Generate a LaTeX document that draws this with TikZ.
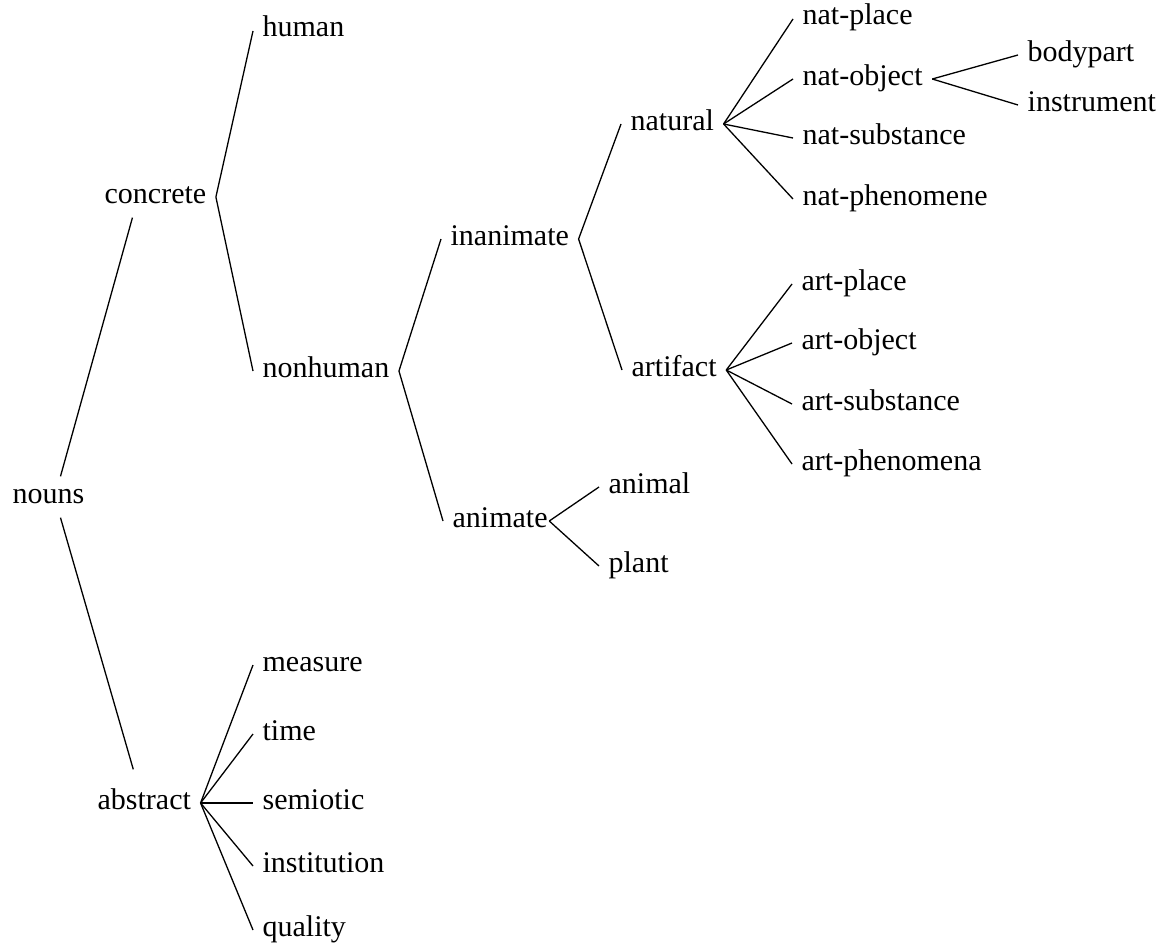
\documentclass[tikz,border=0pt]{standalone}
\usepackage{fontspec}
\setmainfont{Liberation Serif}

\begin{document}
\begin{tikzpicture}[x=1pt, y=-1pt, line width=1.3pt, word/.style = {anchor=west, inner xsep=9pt, inner ysep=6pt, text height=20pt, text depth=8pt, font=\fontsize{30pt}{36pt}\selectfont}]
        \useasboundingbox (0,0) rectangle (1158,942);
        \node[word] (nouns) at (3,497) {nouns};
        \node[word] (concrete) at (95,197) {concrete};
        \node[word] (abstract) at (88,803) {abstract};
        \node[word] (human) at (253,31) {human};
        \node[word] (nonhuman) at (253,371) {nonhuman};
        \node[word] (inanimate) at (441,239) {inanimate};
        \node[word] (animate) at (443,521) {animate};
        \node[word] (natural) at (621,124) {natural};
        \node[word] (artifact) at (622,370) {artifact};
        \node[word] (animal) at (599,487) {animal};
        \node[word] (plant) at (599,566) {plant};
        \node[word] (natplace) at (793,19) {nat-place};
        \node[word] (natobject) at (793,79) {nat-object};
        \node[word] (natsubstance) at (793,138) {nat-substance};
        \node[word] (natphenomene) at (793,199) {nat-phenomene};
        \node[word] (bodypart) at (1018,55) {bodypart};
        \node[word] (instrument) at (1018,105) {instrument};
        \node[word] (artplace) at (792,284) {art-place};
        \node[word] (artobject) at (792,343) {art-object};
        \node[word] (artsubstance) at (792,404) {art-substance};
        \node[word] (artphenomena) at (792,464) {art-phenomena};
        \node[word] (measure) at (253,665) {measure};
        \node[word] (time) at (253,734) {time};
        \node[word] (semiotic) at (253,803) {semiotic};
        \node[word] (institution) at (253,866) {institution};
        \node[word] (quality) at (253,930) {quality};
        \draw ([xshift=12pt]nouns.north) -- ([xshift=-23pt]concrete.south);
        \draw ([xshift=12pt]nouns.south) -- ([xshift=-11pt,yshift=13pt]abstract.north);
        \draw (concrete.east) -- (human.west);
        \draw (concrete.east) -- (nonhuman.west);
        \draw (nonhuman.east) -- (inanimate.west);
        \draw (nonhuman.east) -- (animate.west);
        \draw (inanimate.east) -- (natural.west);
        \draw (inanimate.east) -- (artifact.west);
        \draw ([xshift=-8pt]animate.east) -- (animal.west);
        \draw ([xshift=-8pt]animate.east) -- (plant.west);
        \draw (natural.east) -- (natplace.west);
        \draw (natural.east) -- (natobject.west);
        \draw (natural.east) -- (natsubstance.west);
        \draw (natural.east) -- (natphenomene.west);
        \draw (natobject.east) -- (bodypart.west);
        \draw (natobject.east) -- (instrument.west);
        \draw (artifact.east) -- (artplace.west);
        \draw (artifact.east) -- (artobject.west);
        \draw (artifact.east) -- (artsubstance.west);
        \draw (artifact.east) -- (artphenomena.west);
        \draw (abstract.east) -- (measure.west);
        \draw (abstract.east) -- (time.west);
        \draw (abstract.east) -- (semiotic.west);
        \draw (abstract.east) -- (institution.west);
        \draw (abstract.east) -- (quality.west);
\end{tikzpicture}
\end{document}
